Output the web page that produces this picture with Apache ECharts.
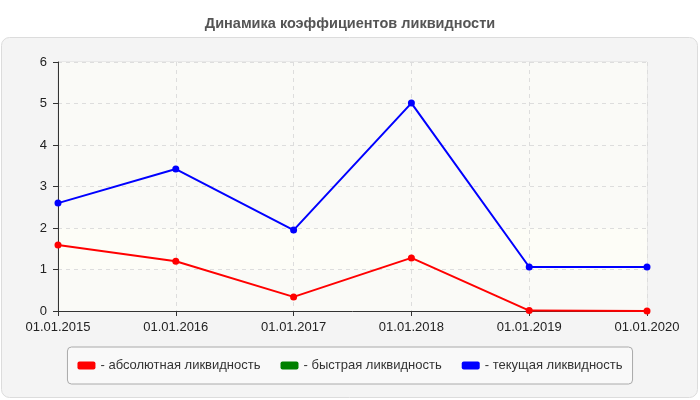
<!DOCTYPE html>
<html>
<head>
<meta charset="utf-8">
<script src="https://cdn.jsdelivr.net/npm/echarts@6/dist/echarts.min.js"></script>
<style>
  html, body { margin: 0; padding: 0; background: #fff; }
  #chart { width: 700px; height: 400px; }
</style>
</head>
<body>
<div id="chart"></div>
<script>
// dates on the x axis
var dates = ['01.01.2015', '01.01.2016', '01.01.2017', '01.01.2018', '01.01.2019', '01.01.2020'];
// coefficient values
var absoluteLiq = [1.59, 1.2, 0.34, 1.28, 0.01, 0.0];
var quickLiq = [];
var currentLiq = [2.6, 3.42, 1.95, 5.01, 1.06, 1.06];

var chartDom = document.getElementById('chart');
var myChart = echarts.init(chartDom);
var font = 'Liberation Sans, Arial, sans-serif';

function lineSeries(name, color, data) {
  return {
    name: name,
    type: 'line',
    data: data,
    symbol: 'circle',
    symbolSize: 7,
    lineStyle: { color: color, width: 2 },
    itemStyle: { color: color },
    emphasis: { disabled: true }
  };
}

var option = {
  animation: false,
  textStyle: { fontFamily: font },
  title: {
    text: 'Динамика коэффициентов ликвидности',
    left: 'center',
    top: 11,
    textStyle: { color: '#555', fontSize: 14.5, fontWeight: 'bold', fontFamily: font }
  },
  graphic: [{
    type: 'rect',
    z: -10,
    shape: { x: 1.5, y: 37.5, width: 696, height: 360, r: 8 },
    style: { fill: '#f4f4f4', stroke: '#dcdcdc', lineWidth: 1 }
  }],
  grid: {
    left: 58, right: 53, top: 62, bottom: 89,
    show: true,
    backgroundColor: '#fbfbf8',
    borderColor: '#dddddd',
    borderWidth: 1
  },
  legend: {
    bottom: 16,
    left: 'center',
    data: ['- абсолютная ликвидность', '- быстрая ликвидность', '- текущая ликвидность'],
    icon: 'roundRect',
    itemWidth: 18,
    itemHeight: 8,
    itemGap: 20,
    padding: [12, 10, 12, 10],
    backgroundColor: '#f9f9f9',
    borderColor: '#aaaaaa',
    borderWidth: 1,
    borderRadius: 4,
    textStyle: { color: '#333', fontSize: 13, fontFamily: font }
  },
  xAxis: {
    type: 'category',
    data: dates,
    boundaryGap: false,
    axisLine: { lineStyle: { color: '#333', width: 1 } },
    axisTick: { show: true, length: 5, lineStyle: { color: '#333' } },
    axisLabel: { color: '#222', fontSize: 13, margin: 10, fontFamily: font },
    splitLine: { show: true, lineStyle: { color: '#dddddd', type: [4, 4] } }
  },
  yAxis: {
    type: 'value',
    min: 0,
    max: 6,
    interval: 1,
    axisLine: { show: true, lineStyle: { color: '#333', width: 1 } },
    axisTick: { show: true, length: 5, lineStyle: { color: '#333' } },
    axisLabel: { color: '#222', fontSize: 13, margin: 11, fontFamily: font },
    splitLine: { show: true, lineStyle: { color: '#dddddd', type: [4, 4] } },
    splitArea: {
      show: true,
      areaStyle: { color: ['#fafaf7', '#fdfdf7', '#fafaf7', '#fafaf7', '#fafaf7', '#fafaf7'] }
    }
  },
  series: [
    lineSeries('- абсолютная ликвидность', '#ff0000', absoluteLiq),
    lineSeries('- быстрая ликвидность', '#008000', quickLiq),
    lineSeries('- текущая ликвидность', '#0000ff', currentLiq)
  ]
};

option && myChart.setOption(option);
window.addEventListener('resize', function () {
  myChart.resize();
});
</script>
</body>
</html>
